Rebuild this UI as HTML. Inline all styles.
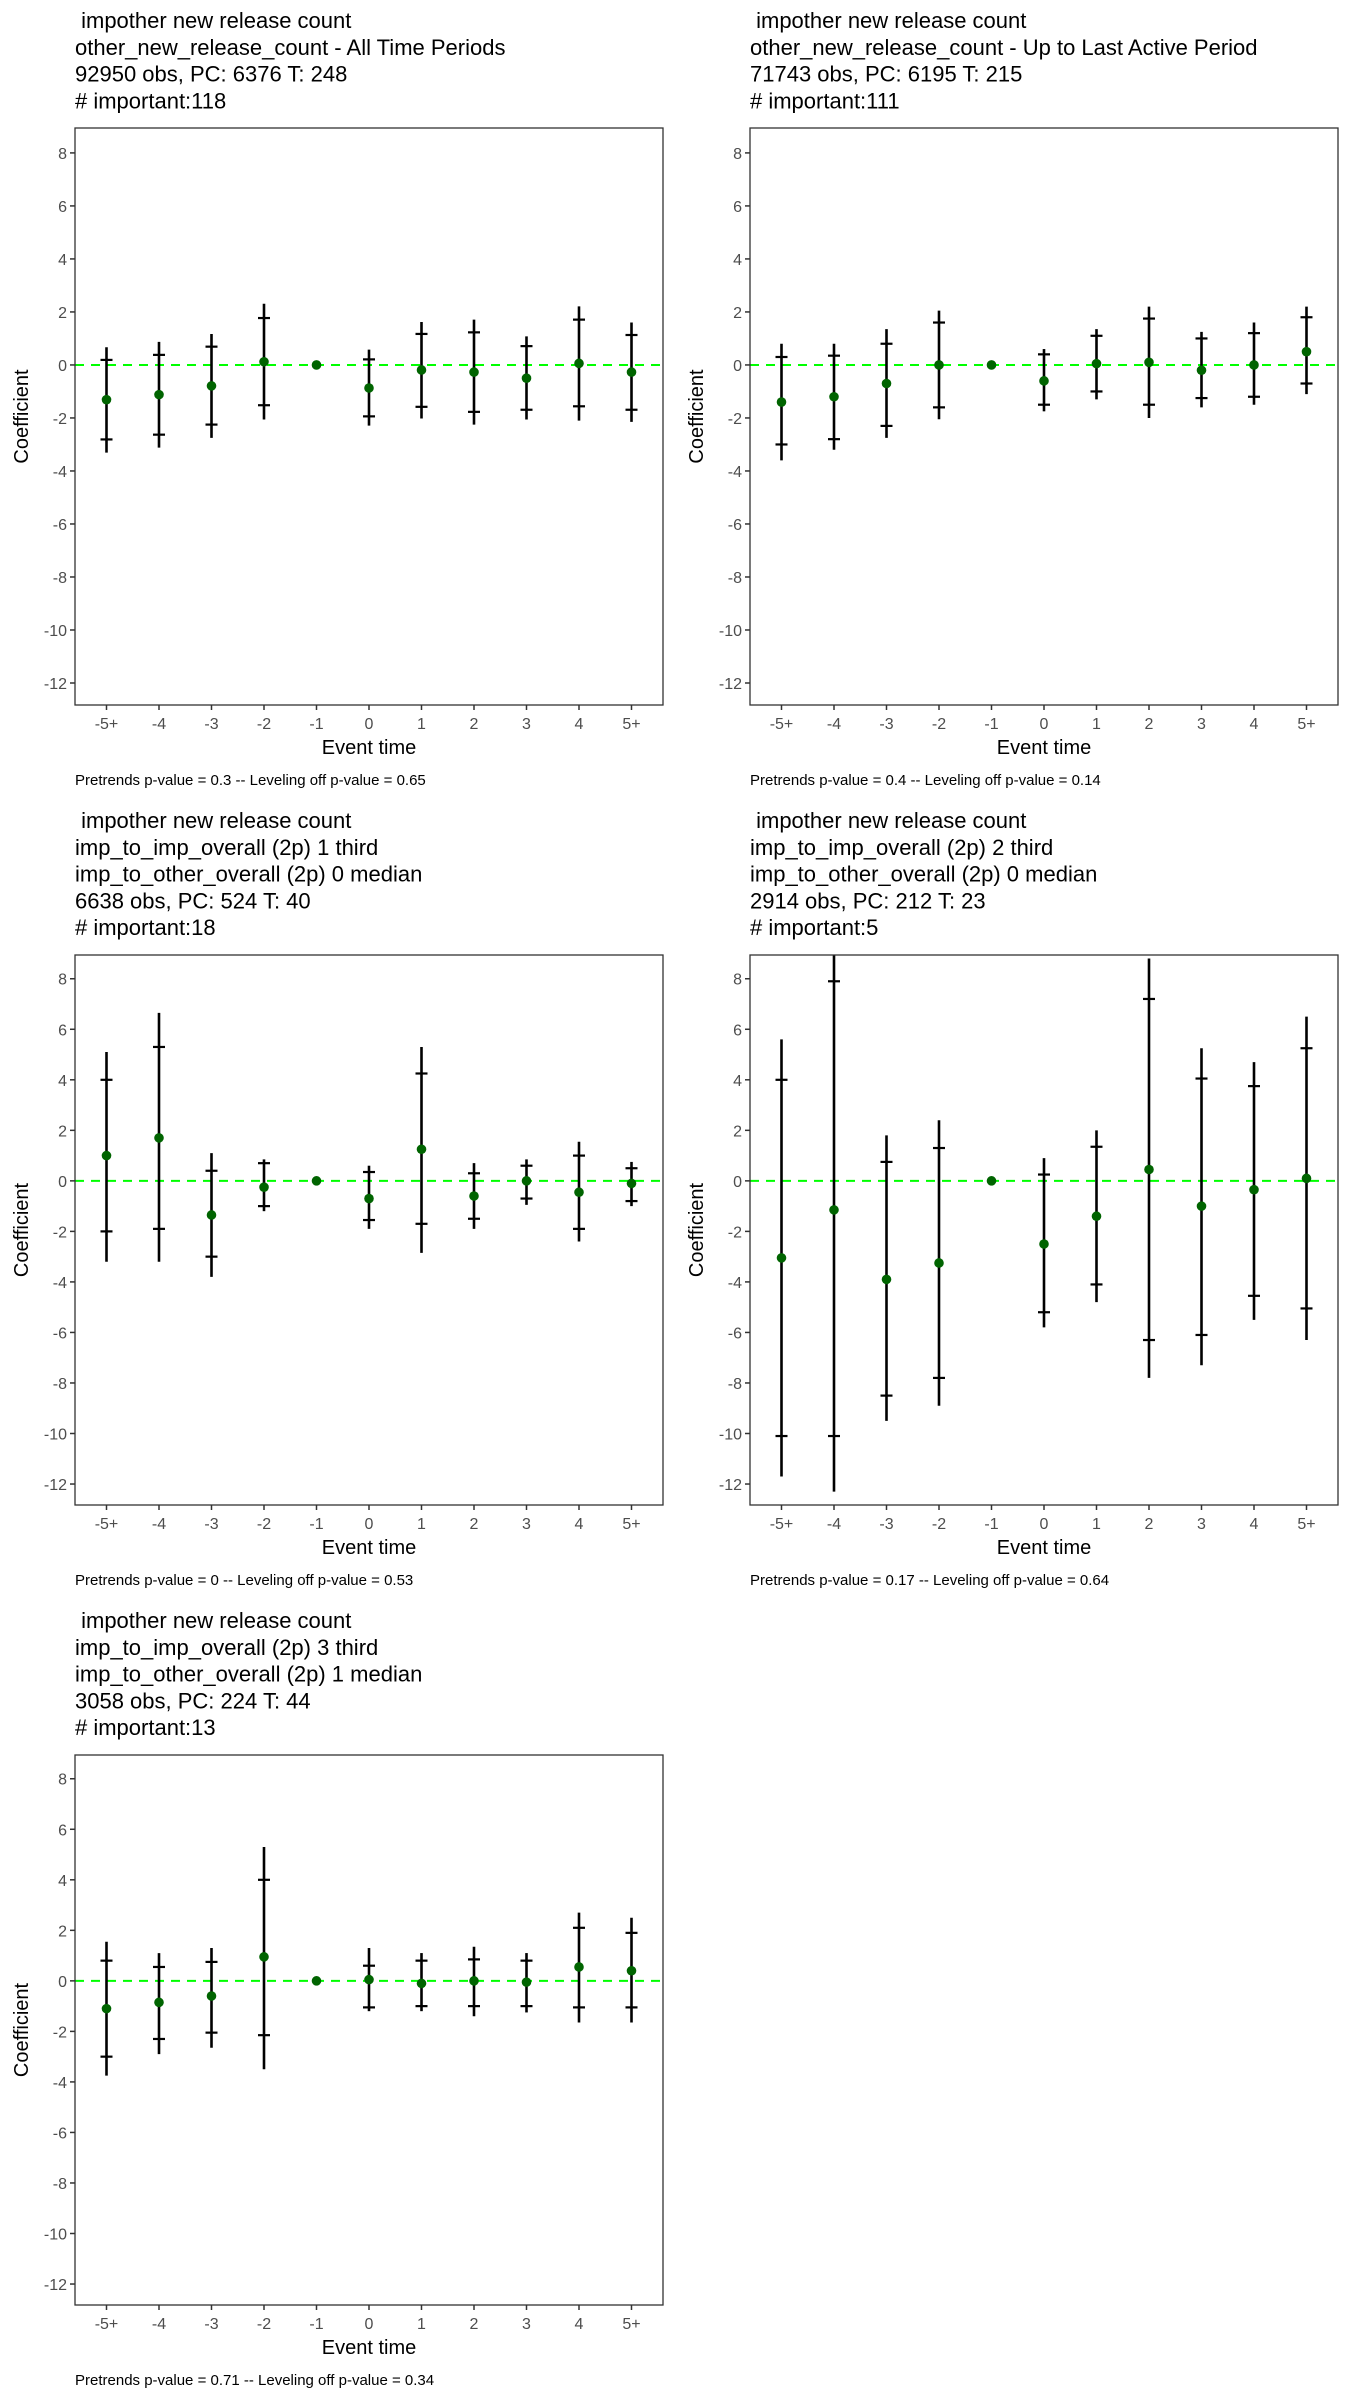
<!DOCTYPE html>
<html><head><meta charset="utf-8"><style>
html,body{margin:0;padding:0;background:#fff;}
svg{display:block;font-family:"Liberation Sans",sans-serif;}
</style></head><body>
<svg id="chart" width="1350" height="2400" viewBox="0 0 1350 2400" xmlns="http://www.w3.org/2000/svg"></svg>
<script>
const categories = ["-5+","-4","-3","-2","-1","0","1","2","3","4","5+"];
const yTicks = [8,6,4,2,0,-2,-4,-6,-8,-10,-12];
// panel 1
const p1Est = [-1.31,-1.12,-0.79,0.12,0,-0.87,-0.19,-0.27,-0.5,0.06,-0.27];
const p1InHi = [0.19,0.38,0.69,1.77,0,0.21,1.17,1.23,0.71,1.71,1.13];
const p1InLo = [-2.81,-2.63,-2.25,-1.52,0,-1.94,-1.58,-1.77,-1.69,-1.56,-1.69];
const p1OutHi = [0.67,0.87,1.17,2.31,0,0.58,1.62,1.71,1.08,2.21,1.6];
const p1OutLo = [-3.31,-3.12,-2.75,-2.06,0,-2.29,-2.02,-2.25,-2.06,-2.1,-2.15];
// panel 2
const p2Est = [-1.4,-1.2,-0.7,0.0,0,-0.6,0.05,0.1,-0.2,0.0,0.5];
const p2InHi = [0.3,0.35,0.8,1.6,0,0.4,1.1,1.75,1.0,1.2,1.8];
const p2InLo = [-3.0,-2.8,-2.3,-1.6,0,-1.5,-1.0,-1.5,-1.25,-1.2,-0.7];
const p2OutHi = [0.8,0.8,1.35,2.05,0,0.6,1.35,2.2,1.25,1.6,2.2];
const p2OutLo = [-3.6,-3.2,-2.75,-2.05,0,-1.75,-1.3,-2.0,-1.6,-1.5,-1.1];
// panel 3
const p3Est = [1.0,1.7,-1.35,-0.25,0,-0.7,1.25,-0.6,0,-0.45,-0.1];
const p3InHi = [4.0,5.3,0.4,0.7,0,0.35,4.25,0.3,0.6,1.0,0.5];
const p3InLo = [-2.0,-1.9,-3.0,-1.0,0,-1.55,-1.7,-1.5,-0.7,-1.9,-0.8];
const p3OutHi = [5.1,6.65,1.1,0.85,0,0.6,5.3,0.7,0.85,1.55,0.75];
const p3OutLo = [-3.2,-3.2,-3.8,-1.2,0,-1.9,-2.85,-1.9,-0.95,-2.4,-1.0];
// panel 4
const p4Est = [-3.05,-1.15,-3.9,-3.25,0,-2.5,-1.4,0.45,-1.0,-0.35,0.1];
const p4InHi = [4.0,7.9,0.75,1.3,0,0.25,1.35,7.2,4.05,3.75,5.25];
const p4InLo = [-10.1,-10.1,-8.5,-7.8,0,-5.2,-4.1,-6.3,-6.1,-4.55,-5.05];
const p4OutHi = [5.6,9.3,1.8,2.4,0,0.9,2.0,8.8,5.25,4.7,6.5];
const p4OutLo = [-11.7,-12.3,-9.5,-8.9,0,-5.8,-4.8,-7.8,-7.3,-5.5,-6.3];
// panel 5
const p5Est = [-1.1,-0.85,-0.6,0.95,0,0.05,-0.1,0,-0.05,0.55,0.4];
const p5InHi = [0.8,0.55,0.75,4.0,0,0.6,0.8,0.85,0.8,2.1,1.9];
const p5InLo = [-3.0,-2.3,-2.05,-2.15,0,-1.05,-1.0,-1.0,-1.0,-1.05,-1.05];
const p5OutHi = [1.55,1.1,1.3,5.3,0,1.3,1.1,1.35,1.1,2.7,2.5];
const p5OutLo = [-3.75,-2.9,-2.65,-3.5,0,-1.2,-1.2,-1.4,-1.25,-1.65,-1.65];

const panels = [
 {ox:0, oy:0, top:128, title:["\u00a0impother new release count","other_new_release_count - All Time Periods","92950 obs, PC: 6376 T: 248","# important:118"], cap:"Pretrends p-value = 0.3 -- Leveling off p-value = 0.65", est:p1Est,ih:p1InHi,il:p1InLo,oh:p1OutHi,ol:p1OutLo},
 {ox:675, oy:0, top:128, title:["\u00a0impother new release count","other_new_release_count - Up to Last Active Period","71743 obs, PC: 6195 T: 215","# important:111"], cap:"Pretrends p-value = 0.4 -- Leveling off p-value = 0.14", est:p2Est,ih:p2InHi,il:p2InLo,oh:p2OutHi,ol:p2OutLo},
 {ox:0, oy:800, top:155, title:["\u00a0impother new release count","imp_to_imp_overall (2p) 1 third","imp_to_other_overall (2p) 0 median","6638 obs, PC: 524 T: 40","# important:18"], cap:"Pretrends p-value = 0 -- Leveling off p-value = 0.53", est:p3Est,ih:p3InHi,il:p3InLo,oh:p3OutHi,ol:p3OutLo},
 {ox:675, oy:800, top:155, title:["\u00a0impother new release count","imp_to_imp_overall (2p) 2 third","imp_to_other_overall (2p) 0 median","2914 obs, PC: 212 T: 23","# important:5"], cap:"Pretrends p-value = 0.17 -- Leveling off p-value = 0.64", est:p4Est,ih:p4InHi,il:p4InLo,oh:p4OutHi,ol:p4OutLo},
 {ox:0, oy:1600, top:155, title:["\u00a0impother new release count","imp_to_imp_overall (2p) 3 third","imp_to_other_overall (2p) 1 median","3058 obs, PC: 224 T: 44","# important:13"], cap:"Pretrends p-value = 0.71 -- Leveling off p-value = 0.34", est:p5Est,ih:p5InHi,il:p5InLo,oh:p5OutHi,ol:p5OutLo}
];
const NS="http://www.w3.org/2000/svg";
const svg=document.getElementById('chart');
function mk(tag,attrs,parent,text){const e=document.createElementNS(NS,tag);for(const k in attrs)e.setAttribute(k,attrs[k]);if(text!==undefined)e.textContent=text;parent.appendChild(e);return e;}
const Y_MAX=8.94, Y_MIN=-12.83;
panels.forEach((p,pi)=>{
  const g=mk('g',{},svg);
  
  
  const L=p.ox+75, R=p.ox+663, T=p.oy+p.top, B=p.oy+705;
  const xs=i=>L+(i+1-0.4)*(R-L)/11.2;
  const ys=v=>T+(Y_MAX-v)*(B-T)/(Y_MAX-Y_MIN);
  const tt=mk('text',{x:p.ox+75,y:p.oy+28,'font-size':22,fill:'#000'},g);
  
  
  p.title.forEach((s,k)=>{mk('tspan',{x:p.ox+75,y:p.oy+28+k*26.8},tt,s);});
  const clipId='clip'+pi;
  const cp=mk('clipPath',{id:clipId},g);mk('rect',{x:L,y:T,width:R-L,height:B-T},cp);
  yTicks.forEach(v=>{
    const y=ys(v);
    mk('line',{x1:L-5,x2:L,y1:y,y2:y,stroke:'#333','stroke-width':1.5},g);
    const t=mk('text',{x:L-8,y:y+6,'text-anchor':'end','font-size':16,fill:'#4d4d4d'},g,String(v));
    
    
  });
  categories.forEach((c,i)=>{
    const x=xs(i);
    mk('line',{x1:x,x2:x,y1:B,y2:B+5,stroke:'#333','stroke-width':1.5},g);
    const t=mk('text',{x:x,y:B+24,'text-anchor':'middle','font-size':16,fill:'#4d4d4d'},g,c);
    
    
  });
  const yt=mk('text',{x:0,y:0,'text-anchor':'middle','font-size':20,fill:'#000',transform:`translate(${p.ox+28},${(T+B)/2}) rotate(-90)`},g,'Coefficient');
  
  
  const xt=mk('text',{x:(L+R)/2,y:B+49,'text-anchor':'middle','font-size':20,fill:'#000'},g,'Event time');
  
  
  const cap=mk('text',{x:L,y:B+80,'font-size':15,fill:'#000'},g,p.cap);
  
  
  const pg=mk('g',{'clip-path':`url(#${clipId})`},g);
  const zl=mk('line',{x1:L,x2:R,y1:ys(0),y2:ys(0),stroke:'#00ff00','stroke-width':2,'stroke-dasharray':'9,7'},pg);
  
  
  categories.forEach((c,i)=>{
    const x=xs(i);
    if(p.oh[i]!==p.ol[i]){
      const ci=mk('line',{x1:x,x2:x,y1:ys(p.oh[i]),y2:ys(p.ol[i]),stroke:'#000','stroke-width':2.6},pg);
      
      
      [p.ih[i],p.il[i]].forEach(v=>{
        const tk=mk('line',{x1:x-6,x2:x+6,y1:ys(v),y2:ys(v),stroke:'#000','stroke-width':2.2},pg);
        
        
      });
    }
    const d=mk('circle',{cx:x,cy:ys(p.est[i]),r:4.8,fill:'#006400'},pg);
    
    
  });
  const fr=mk('rect',{x:L,y:T,width:R-L,height:B-T,fill:'none',stroke:'#333','stroke-width':1.3},g);
  
  
});
</script>
</body></html>
